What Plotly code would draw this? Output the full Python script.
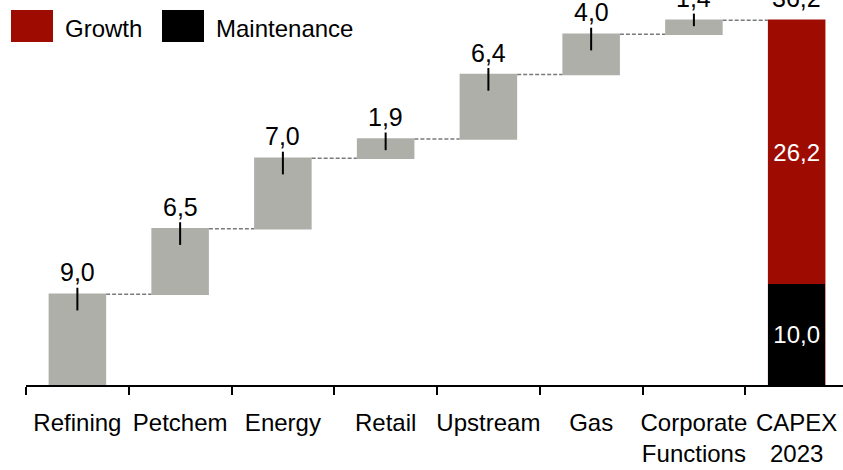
import plotly.graph_objects as go

categories = ["Refining", "Petchem", "Energy", "Retail", "Upstream", "Gas",
              "Corporate<br>Functions", "CAPEX<br>2023"]
segment_values = [9.0, 6.5, 7.0, 1.9, 6.4, 4.0, 1.4]
maintenance_value = 10.0
growth_value = 26.2
total_value = 36.2

GRAY = "#AFAFAA"
RED = "#9E0B00"
BLACK = "#000000"
FONT = "Arial, Liberation Sans, sans-serif"


def fmt(v):
    return f"{v:.1f}".replace(".", ",")


# cumulative tops of each segment
tops = []
acc = 0.0
for v in segment_values:
    acc += v
    tops.append(round(acc, 2))

fig = go.Figure()

fig.add_trace(go.Waterfall(
    x=categories,
    y=segment_values + [0],
    measure=["relative"] * len(segment_values) + ["total"],
    width=0.56,
    increasing=dict(marker=dict(color=GRAY, line=dict(width=0))),
    totals=dict(marker=dict(color=RED, line=dict(width=0))),
    connector=dict(line=dict(color="#7a7a7a", width=1.5, dash="4px,2px")),
    textinfo="none",
    hoverinfo="skip",
    showlegend=False,
))

fig.add_trace(go.Bar(
    x=[categories[-1]], y=[maintenance_value], width=0.56,
    marker=dict(color=BLACK, line=dict(width=0)),
    text=[fmt(maintenance_value)], textposition="inside",
    insidetextanchor="middle",
    textfont=dict(color="white", size=24, family=FONT),
    name="Maintenance", showlegend=False, hoverinfo="skip",
))
fig.add_trace(go.Bar(
    x=[categories[-1]], y=[growth_value], width=0.56,
    marker=dict(color=RED, line=dict(width=0)),
    text=[fmt(growth_value)], textposition="inside",
    insidetextanchor="middle",
    textfont=dict(color="white", size=24, family=FONT),
    name="Growth", showlegend=False, hoverinfo="skip",
))

# leader ticks at top of each segment
fig.add_trace(go.Scatter(
    x=categories[:-1], y=tops, mode="markers",
    marker=dict(size=1, opacity=0),
    error_y=dict(type="data", symmetric=False,
                 array=[0.65] * len(tops),
                 arrayminus=[min(1.6, v - 0.8) for v in segment_values],
                 color=BLACK, thickness=2, width=0),
    cliponaxis=False, showlegend=False, hoverinfo="skip",
))

annotations = []
for cat, top, v in zip(categories[:-1], tops, segment_values):
    annotations.append(dict(x=cat, y=top, text=fmt(v), showarrow=False,
                            yanchor="bottom", yshift=6,
                            font=dict(size=25, color=BLACK, family=FONT)))
annotations.append(dict(x=categories[-1], y=total_value, text=fmt(total_value),
                        showarrow=False, yanchor="bottom", yshift=6,
                        font=dict(size=25, color=BLACK, family=FONT)))

# manual legend
W, H, L, T = 817.0, 385.0, 26.0, 0.0


def px(x):
    return (x - L) / W


def py(y):
    return (H - y) / H


shapes = [
    dict(type="rect", xref="paper", yref="paper", x0=px(11), x1=px(53),
         y0=py(42), y1=py(10), fillcolor=RED, line=dict(width=0)),
    dict(type="rect", xref="paper", yref="paper", x0=px(162), x1=px(204),
         y0=py(42), y1=py(10), fillcolor=BLACK, line=dict(width=0)),
]
annotations.append(dict(xref="paper", yref="paper", x=px(63), y=py(28),
                        xanchor="left", yanchor="middle", text="Growth",
                        showarrow=False,
                        font=dict(size=24, color=BLACK, family=FONT)))
annotations.append(dict(xref="paper", yref="paper", x=px(214), y=py(28),
                        xanchor="left", yanchor="middle", text="Maintenance",
                        showarrow=False,
                        font=dict(size=24, color=BLACK, family=FONT)))

fig.update_layout(
    width=843, height=470,
    margin=dict(l=26, r=0, t=0, b=85, pad=0, autoexpand=False),
    paper_bgcolor="white", plot_bgcolor="white",
    barmode="stack",
    font=dict(family=FONT, size=24, color=BLACK),
    annotations=annotations, shapes=shapes,
    showlegend=False,
    xaxis=dict(type="category", categoryorder="array", categoryarray=categories,
               range=[-0.5, 7.451], automargin=False, tickangle=0,
               showline=True, linecolor=BLACK, linewidth=2,
               ticks="outside", tickson="boundaries", ticklen=8, tickwidth=2,
               tickcolor=BLACK, tickfont=dict(size=24, color=BLACK, family=FONT),
               ticklabelstandoff=15,
               showgrid=False, zeroline=False, fixedrange=True),
    yaxis=dict(visible=False, range=[0, 38.2], showgrid=False, zeroline=False,
               automargin=False, fixedrange=True),
)

fig.write_html("out.html",
               config={"displayModeBar": False},
               post_script="document.body.style.margin='0px';"
                           "document.body.style.overflow='hidden';")
